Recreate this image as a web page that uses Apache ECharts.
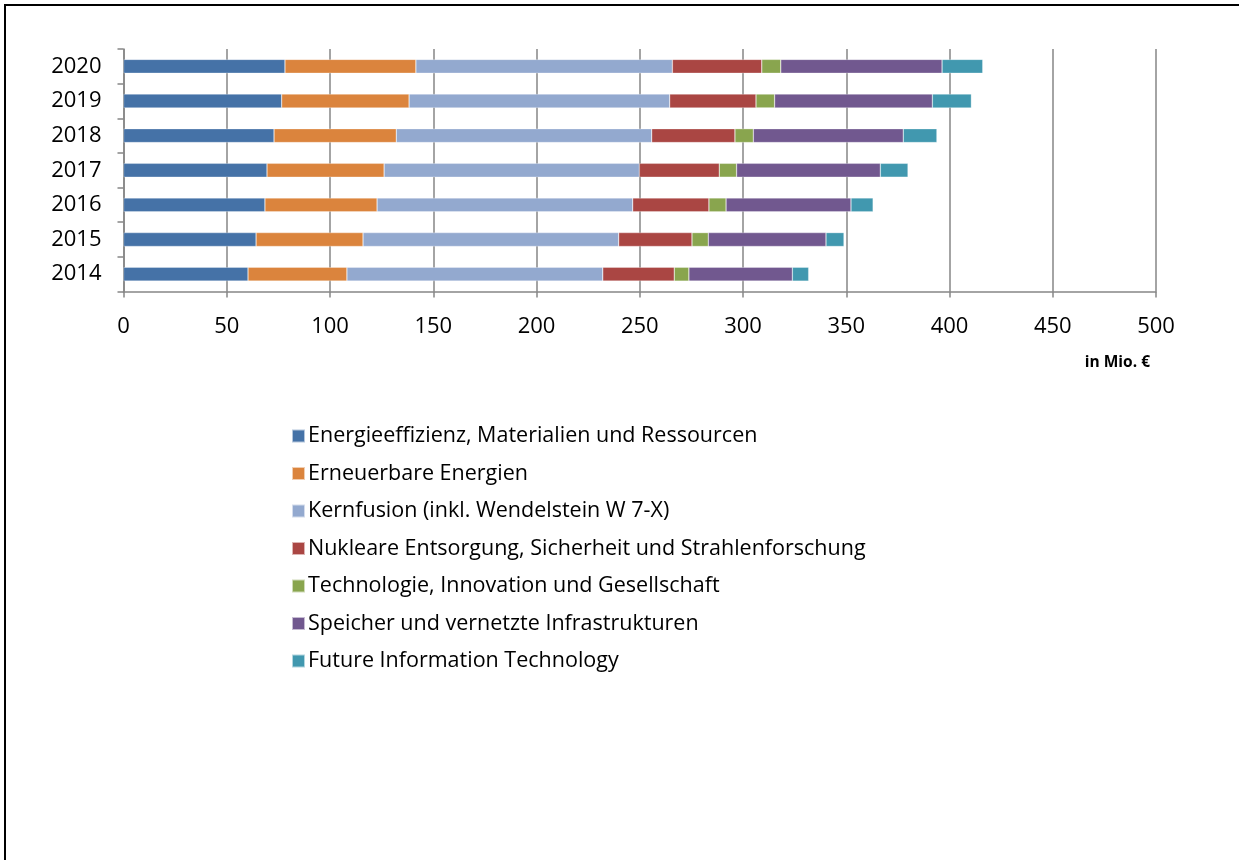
<!DOCTYPE html>
<html>
<head>
<meta charset="utf-8">
<script src="https://cdn.jsdelivr.net/npm/echarts@6/dist/echarts.min.js"></script>
<style>html,body{margin:0;padding:0;background:#fff;}#c{width:1239px;height:860px;}</style>
</head>
<body>
<div id="c"></div>
<script>
const years = ['2014','2015','2016','2017','2018','2019','2020'];
const seriesNames = [
  'Energieeffizienz, Materialien und Ressourcen',
  'Erneuerbare Energien',
  'Kernfusion (inkl. Wendelstein W 7-X)',
  'Nukleare Entsorgung, Sicherheit und Strahlenforschung',
  'Technologie, Innovation und Gesellschaft',
  'Speicher und vernetzte Infrastrukturen',
  'Future Information Technology'
];
const energieeffizienz = [60.3, 64.2, 68.5, 69.5, 72.9, 76.6, 78.2];
const erneuerbare      = [47.9, 51.8, 54.3, 56.7, 59.2, 61.7, 63.4];
const kernfusion       = [123.9, 123.8, 123.8, 123.6, 123.7, 126.2, 124.2];
const nuklear          = [34.6, 35.5, 36.9, 38.7, 40.3, 41.8, 43.3];
const technologie      = [7.1, 7.9, 8.3, 8.4, 8.9, 9.0, 9.2];
const speicher         = [50.1, 57.0, 60.5, 69.6, 72.6, 76.4, 78.1];
const futureIT         = [7.9, 8.7, 10.7, 13.4, 16.3, 18.9, 19.7];
const xTicks = [0, 50, 100, 150, 200, 250, 300, 350, 400, 450, 500];
const unitLabel = 'in Mio. €';

const values = [energieeffizienz, erneuerbare, kernfusion, nuklear, technologie, speicher, futureIT];
const colors = ['#4572A7', '#DB843D', '#93A9CF', '#AA4643', '#89A54E', '#71588F', '#4198AF'];
const font = "'Open Sans', 'Noto Sans', sans-serif";

const chart = echarts.init(document.getElementById('c'), null, {renderer: 'canvas'});
chart.setOption({
  animation: false,
  color: colors,
  grid: {left: 123.5, right: 83, top: 49, bottom: 568.5, containLabel: false},
  xAxis: {
    type: 'value', min: xTicks[0], max: xTicks[xTicks.length - 1], interval: 50,
    axisLine: {show: true, lineStyle: {color: '#868686', width: 1.5}},
    axisTick: {show: true, length: 6, lineStyle: {color: '#868686', width: 1.5}},
    splitLine: {show: true, lineStyle: {color: '#868686', width: 1.5}},
    axisLabel: {color: '#000', fontSize: 22, fontFamily: font, margin: 24}
  },
  yAxis: {
    type: 'category', data: years,
    axisLine: {show: true, lineStyle: {color: '#868686', width: 1.5}},
    axisTick: {show: true, length: 6, lineStyle: {color: '#868686', width: 1.5}},
    axisLabel: {color: '#000', fontSize: 22, fontFamily: font, margin: 22}
  },
  legend: {
    orient: 'vertical', left: 286, top: 419,
    icon: 'rect', itemWidth: 13, itemHeight: 13, itemGap: 13.5,
    textStyle: {fontSize: 21.5, fontFamily: font, color: '#000', lineHeight: 24, padding: [0, 0, 0, -2]},
    data: seriesNames
  },
  graphic: [
    {type: 'text', right: 89, top: 355, style: {text: unitLabel, font: "bold 15.5px 'Open Sans', sans-serif", fill: '#000'}},
    {type: 'rect', shape: {x: 4, y: 4, width: 1235, height: 2}, style: {fill: '#000'}},
    {type: 'rect', shape: {x: 4, y: 4, width: 2, height: 856}, style: {fill: '#000'}}
  ],
  series: seriesNames.map((n, i) => ({
    name: n, type: 'bar', stack: 'total', data: values[i], barWidth: '40%',
    itemStyle: {color: colors[i], borderColor: 'rgba(255,255,255,0.6)', borderWidth: 0.5}
  }))
});
</script>
</body>
</html>
